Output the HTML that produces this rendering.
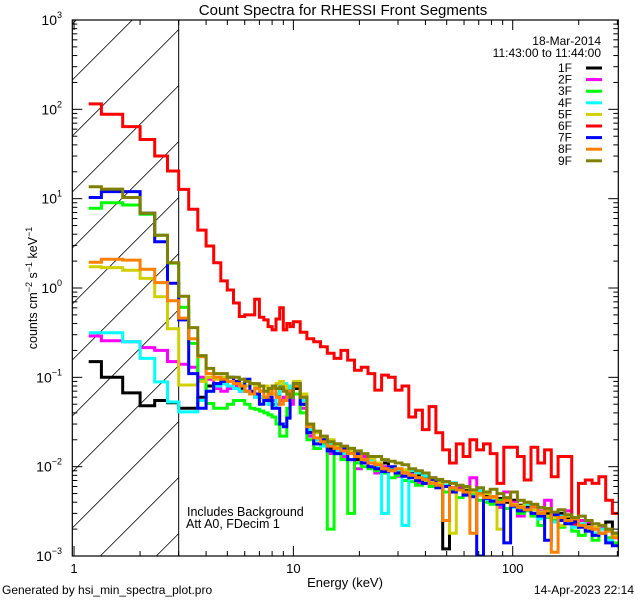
<!DOCTYPE html>
<html><head><meta charset="utf-8">
<style>
html,body{margin:0;padding:0;background:#fff;width:640px;height:600px;overflow:hidden;}
svg{display:block;font-family:"Liberation Sans",sans-serif;overflow:hidden;}
</style></head>
<body>
<svg id="chart" width="640" height="600" viewBox="0 0 640 600" xmlns="http://www.w3.org/2000/svg">
  <rect x="0" y="0" width="640" height="600" fill="#fff"/>
  <text x="343" y="15" font-size="15" text-anchor="middle">Count Spectra for RHESSI Front Segments</text>
  <defs><clipPath id="plotclip"><rect x="72.3" y="20" width="546" height="536"/></clipPath></defs>
  <g id="hatch"></g>
  <g id="series" clip-path="url(#plotclip)"></g>
  <g id="axes"></g>
  <g font-size="12">
    <text x="601" y="45" text-anchor="end">18-Mar-2014</text>
    <text x="601" y="57" text-anchor="end">11:43:00 to 11:44:00</text>
  </g>
  <g id="legend-entries" font-size="12"></g>
  <text x="187" y="516" font-size="12.5">Includes Background</text>
  <text x="186" y="528" font-size="12.5">Att A0, FDecim 1</text>
  <text x="345" y="587" font-size="13" text-anchor="middle">Energy (keV)</text>
  <text transform="translate(37,288) rotate(-90)" font-size="12.5" text-anchor="middle">counts cm<tspan dy="-5" font-size="9">−2</tspan><tspan dy="5"> s</tspan><tspan dy="-5" font-size="9">−1</tspan><tspan dy="5"> keV</tspan><tspan dy="-5" font-size="9">−1</tspan></text>
  <text x="2" y="594" font-size="12">Generated by hsi_min_spectra_plot.pro</text>
  <text x="634" y="594" font-size="12" text-anchor="end">14-Apr-2023 22:14</text>
</svg>
<script>
// ---- data ----
const segmentNames = ["1F","2F","3F","4F","5F","6F","7F","8F","9F"];
const segmentColors = ["#000000","#ff00ff","#00ff00","#00ffff","#d0d000","#ff0000","#0000ff","#ff8000","#808000"];
// low-energy bins (1/3 keV, 1.167 .. 10 keV), 27 values each
const low1F = [0.15,0.1,0.067,0.048,0.055,0.052,0.045,0.045,0.06,0.08,0.085,0.085,0.08,0.08,0.075,0.07,0.065,0.065,0.06,0.06,0.055,0.05,0.06,0.075,0.08,0.07,0.06];
const low2F = [0.29,0.257,0.25,0.215,0.2,0.15,0.14,0.13,0.1,0.095,0.075,0.07,0.075,0.08,0.07,0.07,0.065,0.06,0.06,0.055,0.05,0.055,0.05,0.055,0.06,0.055,0.05];
const low3F = [7.8,9.0,8.5,6.7,3.9,1.9,0.61,0.24,0.093,0.051,0.045,0.045,0.05,0.055,0.055,0.05,0.045,0.044,0.042,0.04,0.038,0.036,0.03,0.022,0.022,0.045,0.06];
const low4F = [0.316,0.316,0.25,0.163,0.089,0.053,0.041,0.041,0.055,0.07,0.08,0.085,0.08,0.075,0.07,0.07,0.065,0.06,0.06,0.055,0.05,0.045,0.065,0.08,0.085,0.08,0.06];
const low5F = [1.73,1.69,1.58,1.28,0.8,0.35,0.082,0.082,0.09,0.1,0.095,0.1,0.09,0.09,0.085,0.08,0.085,0.08,0.07,0.08,0.07,0.065,0.085,0.09,0.08,0.07,0.065];
const low6F = [115,88,64,46,30,20.4,12.7,7.6,4.45,2.95,1.92,1.2,0.95,0.68,0.48,0.5,0.5,0.75,0.47,0.44,0.37,0.34,0.45,0.6,0.34,0.4,0.37];
const low7F = [10.3,12.0,12.0,6.9,3.3,1.13,0.44,0.11,0.045,0.07,0.085,0.09,0.1,0.09,0.08,0.095,0.07,0.065,0.05,0.055,0.06,0.045,0.045,0.03,0.028,0.035,0.07];
const low8F = [1.94,2.1,2.05,1.62,1.15,0.72,0.46,0.27,0.17,0.11,0.1,0.095,0.09,0.085,0.08,0.07,0.065,0.075,0.07,0.06,0.065,0.075,0.06,0.05,0.055,0.07,0.065];
const low9F = [13.6,12.8,10.3,6.9,3.9,1.92,0.81,0.36,0.175,0.126,0.11,0.11,0.1,0.1,0.095,0.09,0.085,0.085,0.08,0.07,0.075,0.08,0.075,0.078,0.07,0.065,0.06];
// high-energy bins (log spaced 10 .. 306 keV), 48 values each
const high1F = [0.075,0.05,0.025,0.02,0.019,0.016,0.018,0.014,0.015,0.012,0.013,0.011,0.01,0.011,0.0095,0.009,0.0085,0.0088,0.008,0.0075,0.0072,0.0068,0.0012,0.0058,0.0058,0.0055,0.005,0.0052,0.0047,0.0045,0.0044,0.004,0.0042,0.0037,0.0035,0.0036,0.0031,0.003,0.0028,0.003,0.0026,0.0025,0.0022,0.0023,0.002,0.0021,0.0024,0.0018];
const high2F = [0.065,0.045,0.022,0.018,0.02,0.014,0.016,0.013,0.012,0.0095,0.013,0.011,0.0085,0.01,0.009,0.0078,0.0088,0.0082,0.0065,0.007,0.0075,0.0062,0.0068,0.0055,0.0058,0.005,0.0075,0.0048,0.0044,0.0046,0.0035,0.0052,0.004,0.0028,0.0038,0.0034,0.0032,0.0042,0.0026,0.0028,0.0032,0.0022,0.0025,0.0024,0.0018,0.0021,0.0019,0.0016];
const high3F = [0.065,0.04,0.02,0.016,0.0175,0.002,0.014,0.012,0.003,0.011,0.01,0.0095,0.009,0.0085,0.0075,0.008,0.007,0.0068,0.0062,0.0065,0.006,0.0058,0.0052,0.0055,0.0045,0.0048,0.005,0.0042,0.004,0.0038,0.0042,0.0034,0.0036,0.003,0.0032,0.0028,0.0022,0.0027,0.0025,0.0021,0.0023,0.0019,0.0017,0.0021,0.0015,0.0018,0.0016,0.0014];
const high4F = [0.08,0.055,0.026,0.02,0.017,0.018,0.015,0.014,0.016,0.013,0.011,0.012,0.01,0.003,0.0098,0.0092,0.0022,0.009,0.0085,0.0078,0.0072,0.0065,0.0062,0.0066,0.0055,0.0052,0.0047,0.0054,0.0043,0.0044,0.0038,0.0042,0.0035,0.0033,0.0038,0.003,0.0026,0.0034,0.0024,0.0028,0.0025,0.0021,0.0023,0.0019,0.0018,0.002,0.0015,0.0017];
const high5F = [0.09,0.065,0.03,0.024,0.021,0.02,0.017,0.016,0.015,0.014,0.012,0.0125,0.011,0.0095,0.01,0.0085,0.0092,0.0078,0.0075,0.007,0.0068,0.0066,0.006,0.0018,0.0055,0.0058,0.0052,0.0048,0.005,0.0045,0.002,0.0042,0.0038,0.0036,0.004,0.0033,0.0031,0.0028,0.0027,0.0022,0.0028,0.0024,0.0022,0.002,0.0021,0.0018,0.0019,0.0017];
const high6F = [0.42,0.32,0.27,0.25,0.22,0.186,0.163,0.2,0.156,0.12,0.13,0.11,0.072,0.106,0.1,0.072,0.08,0.036,0.043,0.026,0.047,0.024,0.0154,0.011,0.018,0.013,0.02,0.0154,0.018,0.014,0.0065,0.0165,0.0165,0.013,0.0071,0.0165,0.011,0.0154,0.0077,0.013,0.013,0.0023,0.0065,0.0071,0.0065,0.0077,0.0042,0.003];
const high7F = [0.085,0.05,0.024,0.018,0.02,0.015,0.014,0.016,0.012,0.014,0.011,0.01,0.0095,0.0088,0.01,0.0085,0.0078,0.0075,0.007,0.0065,0.0072,0.0058,0.006,0.0052,0.0056,0.0048,0.0046,0.001,0.0044,0.0041,0.0038,0.0014,0.0036,0.0032,0.0034,0.003,0.0028,0.0015,0.0029,0.0025,0.0023,0.0024,0.0021,0.0019,0.0017,0.0018,0.0014,0.0013];
const high8F = [0.08,0.06,0.028,0.021,0.019,0.017,0.016,0.015,0.014,0.013,0.012,0.011,0.0105,0.0095,0.009,0.0095,0.0085,0.008,0.0075,0.0072,0.0065,0.0062,0.0025,0.0058,0.0055,0.0052,0.0018,0.005,0.0045,0.0046,0.004,0.0042,0.0037,0.0035,0.0033,0.0036,0.003,0.0032,0.0011,0.0027,0.0025,0.0026,0.0022,0.0021,0.002,0.0018,0.0019,0.0016];
const high9F = [0.085,0.06,0.03,0.025,0.022,0.019,0.018,0.017,0.016,0.015,0.014,0.013,0.013,0.012,0.0115,0.011,0.0105,0.0095,0.009,0.0085,0.0075,0.0072,0.0068,0.0065,0.0062,0.006,0.0055,0.0058,0.0052,0.0056,0.005,0.0045,0.0052,0.0042,0.004,0.0038,0.0035,0.0034,0.0031,0.0033,0.0029,0.0027,0.0028,0.0025,0.0023,0.0022,0.002,0.0018];
const yTickExps = [-3,-2,-1,0,1,2,3];
const xTickLabels = ["1","10","100"];
const xTickValues = [1,10,100];
const hatchLimitKeV = 3;

// ---- scales ----
const X0=72.3, X1=618.3, Y0=20, Y1=556;
const EMIN=0.982, EMAX=303;
function xs(e){return X0+(Math.log10(e)-Math.log10(EMIN))/(Math.log10(EMAX)-Math.log10(EMIN))*(X1-X0);}
function ys(v){const l=Math.max(Math.log10(v),-3.05);return Y1-(l+3)/6*(Y1-Y0);}

// energy bin edges
const edges=[7/6];
for(let j=0;j<=26;j++) edges.push(4/3+j/3);
const lstep=Math.log10(306/10)/48;
for(let k=1;k<=48;k++) edges.push(10*Math.pow(10,k*lstep));

const NS="http://www.w3.org/2000/svg";
function mk(tag,attrs,parent){const el=document.createElementNS(NS,tag);for(const k in attrs)el.setAttribute(k,attrs[k]);parent.appendChild(el);return el;}

// hatch: 45-degree lines (y = c - (x - X0)), clipped manually to hatched box
const hatch=document.getElementById('hatch');
const HX=xs(hatchLimitKeV);
for(let i=-6;i<=6;i++){
  const c=360+56*i;
  let xa=X0, ya=c;
  if(ya>Y1){xa=X0+(ya-Y1);ya=Y1;}
  let xb=HX, yb=c-(HX-X0);
  if(yb<Y0){xb=X0+(c-Y0);yb=Y0;}
  if(xa>=xb || ya<=Y0) continue;
  const ln=mk('line',{x1:xa.toFixed(1),y1:ya.toFixed(1),x2:xb.toFixed(1),y2:yb.toFixed(1),stroke:'#000','stroke-width':0.8},hatch);
  
  
}
const hl=mk('line',{x1:HX,y1:Y0,x2:HX,y2:Y1,stroke:'#000','stroke-width':1},hatch);



// series
const lows=[low1F,low2F,low3F,low4F,low5F,low6F,low7F,low8F,low9F];
const highs=[high1F,high2F,high3F,high4F,high5F,high6F,high7F,high8F,high9F];
const sg=document.getElementById('series');
for(let s=0;s<9;s++){
  const vals=lows[s].concat(highs[s]);
  let d='M'+xs(edges[0]).toFixed(1)+','+ys(vals[0]).toFixed(1);
  for(let i=0;i<vals.length;i++){
    if(i>0) d+='V'+ys(vals[i]).toFixed(1);
    d+='H'+xs(edges[i+1]).toFixed(1);
  }
  const p=mk('path',{d:d,fill:'none',stroke:segmentColors[s],'stroke-width':3,'stroke-linejoin':'miter'},sg);
  
  
}

// axes
const ax=document.getElementById('axes');
const frame=mk('rect',{x:X0,y:Y0,width:X1-X0,height:Y1-Y0,fill:'none',stroke:'#000','stroke-width':1.2},ax);


for(let dec=-3;dec<3;dec++){
  for(let m=1;m<10;m++){
    const y=ys(m*Math.pow(10,dec));
    const L=m===1?10:5;
    const t1=mk('line',{x1:X0,y1:y,x2:X0+L,y2:y,stroke:'#000'},ax);
    
    
    const t2=mk('line',{x1:X1,y1:y,x2:X1-L,y2:y,stroke:'#000'},ax);
    
    
  }
}
yTickExps.forEach(e=>{
  const y=ys(Math.pow(10,e));
  const t=mk('text',{x:62,y:y+5,'font-size':14,'text-anchor':'end'},ax);
  
  
  t.textContent='10';
  const sup=document.createElementNS(NS,'tspan');
  sup.setAttribute('dy','-7');sup.setAttribute('font-size','9');
  sup.textContent=e<0?'−'+(-e):String(e);
  t.appendChild(sup);
});
for(let dec=0;dec<3;dec++){
  for(let m=1;m<10;m++){
    const e=m*Math.pow(10,dec);
    if(e<EMIN||e>EMAX) continue;
    const x=xs(e);
    const L=m===1?10:5;
    const t1=mk('line',{x1:x,y1:Y1,x2:x,y2:Y1-L,stroke:'#000'},ax);
    
    
    const t2=mk('line',{x1:x,y1:Y0,x2:x,y2:Y0+L,stroke:'#000'},ax);
    
    
  }
}
xTickValues.forEach((v,i)=>{
  const t=mk('text',{x:xs(v),y:573,'font-size':13,'text-anchor':'middle'},ax);
  
  
  t.textContent=xTickLabels[i];
});

// legend entries
const lg=document.getElementById('legend-entries');
segmentNames.forEach((n,i)=>{
  const y=68+i*11.6;
  const t=mk('text',{x:572,y:y+4,'text-anchor':'end'},lg);
  
  
  t.textContent=n;
  const l=mk('line',{x1:586,y1:y,x2:602,y2:y,stroke:segmentColors[i],'stroke-width':3},lg);
  
  
});
</script>
</body></html>
